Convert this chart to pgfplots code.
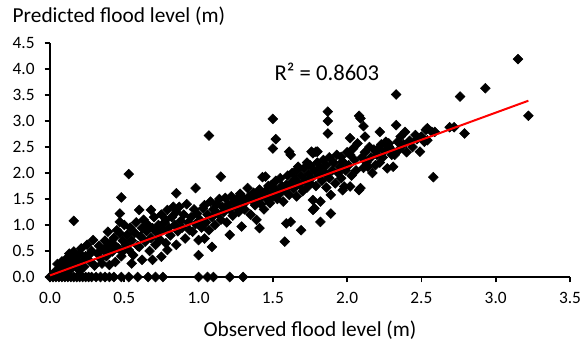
\documentclass[border=0pt]{standalone}
\usepackage{pgfplots}
\pgfplotsset{compat=1.18}
\usepackage{pgfplotstable}
\usepackage{fontspec}
\setmainfont{Carlito}

\pgfplotstableread{
x y
0.00 0
0.02 0
0.04 0
0.06 0
0.08 0
0.10 0
0.12 0
0.14 0
0.16 0
0.18 0
0.20 0
0.22 0
0.24 0
0.26 0
0.28 0
0.31 0
0.34 0
0.37 0
0.40 0
0.43 0
0.48 0
0.53 0
0.59 0
0.66 0
0.71 0
0.76 0
1.00 0
1.06 0
1.10 0
1.21 0
1.30 0
0.02 0.05
0.04 0.12
0.05 0.25
0.06 0.08
0.07 0.18
0.08 0.30
0.09 0.12
0.10 0.22
0.11 0.35
0.11 0.05
0.12 0.28
0.13 0.45
0.14 0.15
0.15 0.33
0.16 0.49
0.16 1.08
0.17 0.22
0.18 0.38
0.19 0.28
0.20 0.12
0.20 0.45
0.21 0.55
0.22 0.30
0.23 0.20
0.24 0.40
0.25 0.62
0.26 0.42
0.27 0.30
0.28 0.50
0.29 0.71
0.30 0.22
0.32 0.45
0.33 0.60
0.34 0.35
0.35 0.26
0.36 0.52
0.37 0.70
0.38 0.58
0.38 0.40
0.39 0.87
0.40 0.23
0.40 0.48
0.41 0.65
0.42 0.49
0.43 0.75
0.44 0.29
0.44 0.60
0.45 0.90
0.46 0.55
0.47 0.84
0.47 1.06
0.47 1.22
0.48 1.53
0.48 0.40
0.49 0.49
0.49 0.70
0.50 1.00
0.51 0.62
0.52 0.81
0.53 0.52
0.53 1.98
0.54 0.95
0.55 0.26
0.55 0.70
0.56 0.42
0.57 0.85
0.58 1.05
0.59 0.60
0.60 0.58
0.60 1.29
0.61 0.78
0.62 0.94
0.62 0.33
0.63 1.10
0.64 0.68
0.65 0.88
0.66 1.00
0.67 0.50
0.68 1.29
0.68 0.75
0.69 0.94
0.69 0.33
0.70 1.15
0.71 0.62
0.72 0.85
0.73 1.00
0.74 0.72
0.75 0.39
0.75 1.20
0.76 0.90
0.77 1.05
0.78 1.10
0.78 0.65
0.79 1.29
0.79 0.52
0.80 0.95
0.81 0.80
0.82 1.15
0.83 1.35
0.84 1.00
0.85 0.62
0.85 1.61
0.85 1.25
0.86 0.88
0.87 1.35
0.88 1.08
0.89 0.95
0.90 1.20
0.91 0.74
0.92 1.40
0.93 1.05
0.94 0.90
0.95 1.15
0.96 0.87
0.97 1.30
0.98 1.71
0.98 1.02
0.99 1.22
1.00 0.42
1.00 0.71
1.01 1.10
1.02 0.95
1.03 1.32
1.04 1.38
1.04 0.74
1.05 1.05
1.06 1.20
1.07 2.72
1.07 0.90
1.08 1.45
1.09 0.58
1.09 1.15
1.10 1.30
1.11 1.00
1.12 1.40
1.13 1.22
1.14 1.50
1.15 1.93
1.15 1.10
1.16 1.35
1.17 1.25
1.18 1.52
1.19 1.05
1.20 1.40
1.21 0.81
1.21 1.30
1.22 1.55
1.23 1.18
1.24 1.45
1.25 1.35
1.26 1.50
1.27 1.25
1.28 1.60
1.29 0.97
1.29 1.40
1.30 1.52
1.31 1.30
1.32 1.45
1.33 1.71
1.34 1.55
1.35 1.20
1.36 1.48
1.37 1.62
1.38 1.38
1.39 1.10
1.39 1.55
1.40 1.48
1.41 0.94
1.41 1.68
1.42 1.40
1.43 1.92
1.43 1.58
1.44 1.30
1.45 1.93
1.45 1.65
1.46 1.50
1.47 1.75
1.48 1.42
1.49 1.77
1.49 1.60
1.50 3.04
1.50 2.47
1.50 1.55
1.51 1.70
1.52 2.65
1.52 1.85
1.53 1.50
1.54 1.62
1.55 1.61
1.55 1.90
1.56 1.75
1.57 1.45
1.58 0.68
1.58 1.68
1.59 1.03
1.59 1.77
1.60 1.95
1.61 2.41
1.61 1.58
1.62 2.35
1.62 1.06
1.62 1.80
1.63 2.00
1.64 1.70
1.65 1.88
1.66 2.05
1.66 1.55
1.67 2.12
1.68 1.78
1.69 0.90
1.69 1.95
1.70 1.65
1.71 2.09
1.72 1.85
1.73 2.20
1.73 1.72
1.74 1.98
1.75 2.15
1.75 1.80
1.76 2.41
1.76 1.90
1.77 2.38
1.77 1.48
1.77 1.29
1.78 1.32
1.78 2.05
1.79 2.41
1.79 1.75
1.80 2.41
1.80 2.20
1.81 1.95
1.82 1.45
1.82 1.06
1.82 2.10
1.83 1.85
1.84 2.25
1.85 2.00
1.86 1.72
1.86 2.15
1.87 3.18
1.87 3.00
1.87 2.76
1.88 2.30
1.88 1.90
1.89 1.58
1.89 1.22
1.90 2.05
1.91 2.20
1.92 1.80
1.93 2.35
1.94 2.00
1.95 2.12
1.96 2.31
1.96 1.90
1.97 2.22
1.97 1.67
1.98 1.74
1.99 2.05
2.00 2.40
2.01 2.15
2.02 2.67
2.02 2.35
2.02 1.74
2.03 1.95
2.04 2.47
2.05 2.25
2.06 2.05
2.07 2.57
2.08 3.10
2.08 1.67
2.09 3.05
2.09 1.71
2.10 2.30
2.11 2.90
2.11 2.10
2.12 2.70
2.12 2.40
2.13 2.20
2.14 2.12
2.15 2.50
2.16 2.30
2.17 2.00
2.18 2.45
2.19 2.15
2.20 2.35
2.21 2.47
2.22 2.79
2.22 2.20
2.23 2.55
2.24 2.30
2.25 2.42
2.26 2.60
2.27 2.09
2.28 2.51
2.28 2.57
2.29 2.47
2.30 2.35
2.31 2.12
2.32 2.35
2.33 3.51
2.33 2.92
2.34 2.60
2.35 2.45
2.36 2.70
2.38 2.55
2.39 2.79
2.40 2.40
2.42 2.62
2.44 2.50
2.46 2.73
2.47 2.65
2.49 2.41
2.50 2.70
2.52 2.60
2.53 2.83
2.54 2.63
2.54 2.86
2.57 2.79
2.58 1.92
2.59 2.79
2.69 2.88
2.72 2.88
2.76 3.47
2.79 2.76
2.93 3.63
3.15 4.19
3.22 3.10
}\floodtable

\pgfplotstableread{
x y
0.00 0.03
3.22 3.39
}\trendtable

\begin{document}
\begin{tikzpicture}
\useasboundingbox (-37.5pt,-54pt) rectangle (400.5pt,207.75pt);
\begin{axis}[
  scale only axis,
  width=390pt, height=175.5pt,
  xmin=0, xmax=3.5, ymin=0, ymax=4.5,
  axis lines*=left,
  axis line style={line width=1.2pt, black},
  tick style={line width=1.2pt, black},
  tick align=outside,
  major tick length=4pt,
  xtick={0,0.5,1,1.5,2,2.5,3,3.5},
  ytick={0,0.5,1,1.5,2,2.5,3,3.5,4,4.5},
  xticklabel style={yshift=-4pt, /pgf/number format/.cd, fixed, fixed zerofill, precision=1},
  yticklabel style={xshift=-4pt, /pgf/number format/.cd, fixed, fixed zerofill, precision=1},
  /pgf/number format/assume math mode=true,
  ticklabel style={font=\fontsize{13}{15}\selectfont},
  clip=false,
  clip marker paths=true,
]
\addplot[only marks, mark=square*, mark size=2.6pt,
  mark options={rotate=45, fill=black, draw=black}] table[x=x,y=y] {\floodtable};
\addplot[red, line width=1.5pt, no marks] table[x=x,y=y] {\trendtable};
\node[anchor=west, font=\fontsize{17}{20}\selectfont] at (axis cs:1.48,3.94) {R² = 0.8603};
\node[anchor=base west, font=\fontsize{16}{19}\selectfont] at (rel axis cs:0,1) [xshift=-31.5pt, yshift=15.2pt] {Predicted flood level (m)};
\node[anchor=base, font=\fontsize{16}{19}\selectfont] at (rel axis cs:0.5,0) [yshift=-44.25pt] {Observed flood level (m)};
\end{axis}
\end{tikzpicture}
\end{document}
